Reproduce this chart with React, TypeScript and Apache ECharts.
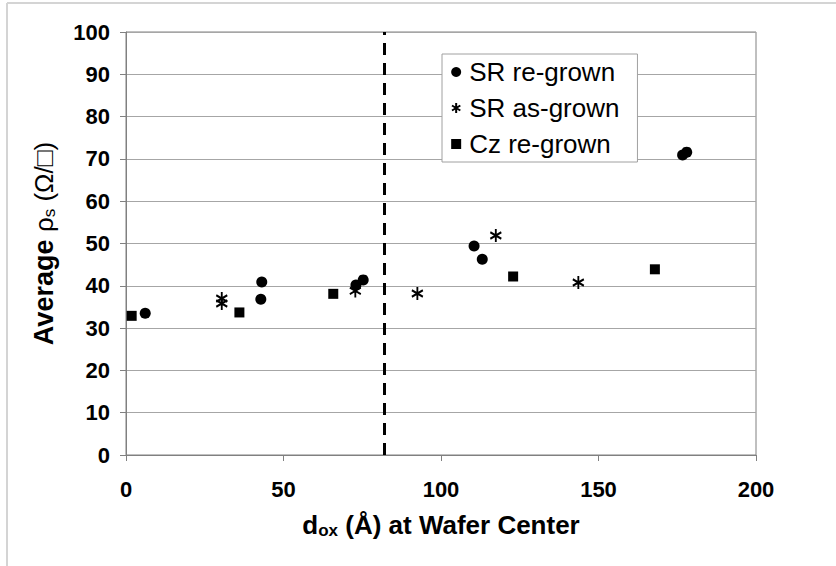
import React, { useEffect, useRef } from "react";
import * as echarts from "echarts";

const srRegrownX = [6.1, 43.1, 42.8, 73.0, 75.3, 110.5, 113.1, 176.7, 178.0];
const srRegrownY = [33.5, 40.9, 36.8, 40.2, 41.4, 49.4, 46.3, 70.9, 71.6];
const srAsGrownX = [30.4, 30.4, 72.8, 92.5, 117.4, 143.6];
const srAsGrownY = [37.0, 35.8, 38.8, 38.2, 51.9, 40.8];
const czRegrownX = [1.8, 36.0, 65.8, 122.9, 167.9];
const czRegrownY = [32.9, 33.7, 38.1, 42.2, 43.9];
const dividerX = 82;
const seriesNames = ["SR re-grown", "SR as-grown", "Cz re-grown"];

const zip = (xs: number[], ys: number[]) => xs.map((x, i) => [x, ys[i]]);

const STAR = "path://M5,0L5,12M0,3L10,9M0,9L10,3";
const FONT = "'Liberation Sans', Arial, sans-serif";

export default function App() {
  const ref = useRef<HTMLDivElement>(null);
  useEffect(() => {
    if (!ref.current) return;
    const chart = echarts.init(ref.current, undefined, { renderer: "svg" });
    chart.setOption({
      animation: false,
      backgroundColor: "#ffffff",
      textStyle: { fontFamily: FONT },
      graphic: [
        { type: "line", shape: { x1: 7, y1: 3, x2: 7, y2: 566 }, style: { stroke: "#d4d4d4", lineWidth: 2 } },
        { type: "line", shape: { x1: 7, y1: 3, x2: 836, y2: 3 }, style: { stroke: "#d4d4d4", lineWidth: 2 } },
      ],
      grid: {
        left: 126,
        right: 80,
        top: 32,
        bottom: 111,
        show: true,
        borderColor: "#808080",
        borderWidth: 1,
        backgroundColor: "transparent",
      },
      legend: {
        orient: "vertical",
        left: 442,
        top: 54,
        padding: [4, 18, 4, 9],
        itemGap: 8,
        itemWidth: 10,
        itemHeight: 10,
        backgroundColor: "#ffffff",
        borderColor: "#a0a0a0",
        borderWidth: 1,
        borderRadius: 0,
        data: seriesNames,
        textStyle: { fontSize: 26, color: "#000", fontFamily: FONT, lineHeight: 28, padding: [0, 0, 0, 3] },
      },
      xAxis: {
        type: "value",
        min: 0,
        max: 200,
        interval: 50,
        name: "{b|d}{sub|ox}{b| (Å) at Wafer Center}",
        nameLocation: "middle",
        nameGap: 55,
        nameTextStyle: {
          rich: {
            b: { fontSize: 26, fontWeight: "bold", color: "#000", fontFamily: FONT },
            sub: { fontSize: 17, fontWeight: "bold", color: "#000", fontFamily: FONT, padding: [12, 0, 0, 0] },
          },
        },
        axisLine: { show: true, lineStyle: { color: "#808080", width: 1 } },
        axisTick: { show: true, inside: false, length: 6, lineStyle: { color: "#808080" } },
        splitLine: { show: false },
        axisLabel: { fontSize: 22, fontWeight: "bold", color: "#000", margin: 23, fontFamily: FONT },
      },
      yAxis: {
        type: "value",
        min: 0,
        max: 100,
        interval: 10,
        name: "{b|Average }{r|ρ}{sub|s}{r| (Ω/□)}",
        nameLocation: "middle",
        nameGap: 68,
        nameTextStyle: {
          rich: {
            b: { fontSize: 27, fontWeight: "bold", color: "#000", fontFamily: "'Liberation Sans Narrow', " + FONT },
            r: { fontSize: 26, color: "#000", fontFamily: FONT },
            sub: { fontSize: 17, color: "#000", fontFamily: FONT, padding: [12, 0, 0, 0] },
          },
        },
        axisLine: { show: true, lineStyle: { color: "#808080", width: 1 } },
        axisTick: { show: true, inside: false, length: 6, lineStyle: { color: "#808080" } },
        splitLine: { show: true, lineStyle: { color: "#a6a6a6", width: 1 } },
        axisLabel: { fontSize: 22, fontWeight: "bold", color: "#000", margin: 16, fontFamily: FONT },
      },
      series: [
        {
          name: seriesNames[0],
          type: "scatter",
          symbol: "circle",
          symbolSize: 11,
          itemStyle: { color: "#000", opacity: 1 },
          data: zip(srRegrownX, srRegrownY),
          markLine: {
            silent: true,
            symbol: "none",
            label: { show: false },
            lineStyle: { color: "#000", type: [12, 8], width: 3, opacity: 1 },
            data: [{ xAxis: dividerX }],
          },
        },
        {
          name: seriesNames[1],
          type: "scatter",
          symbol: STAR,
          symbolSize: [11, 13],
          itemStyle: { color: "transparent", borderColor: "#000", borderWidth: 2, opacity: 1 },
          data: zip(srAsGrownX, srAsGrownY),
        },
        {
          name: seriesNames[2],
          type: "scatter",
          symbol: "rect",
          symbolSize: 10,
          itemStyle: { color: "#000", opacity: 1 },
          data: zip(czRegrownX, czRegrownY),
        },
      ],
    });
    return () => chart.dispose();
  }, []);
  return <div ref={ref} style={{ position: "absolute", left: 0, top: 0, width: 836, height: 566 }} />;
}
